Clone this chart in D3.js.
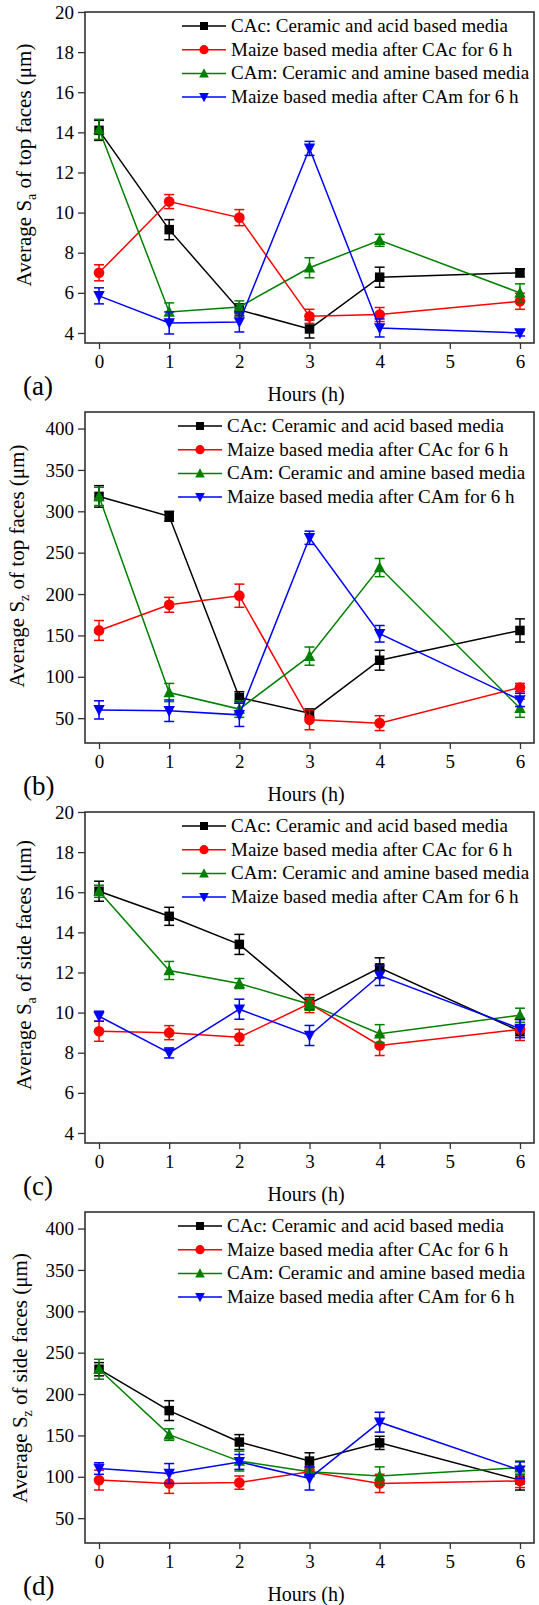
<!DOCTYPE html>
<html><head><meta charset="utf-8">
<script src="https://cdn.jsdelivr.net/npm/d3@7"></script>
<style>
body{margin:0;background:#fff;}
</style></head>
<body><svg id="chart" width="539" height="1605"></svg>
<script>
// ---------- data ----------
const hours = [0, 1, 2, 3, 4, 6];
const xTicks = [0, 1, 2, 3, 4, 5, 6];
const seriesNames = [
  "CAc: Ceramic and acid based media",
  "Maize based media after CAc for 6 h",
  "CAm: Ceramic and amine based media",
  "Maize based media after CAm for 6 h"
];
const panelLetters = ["(a)", "(b)", "(c)", "(d)"];
const yTitleMain = ["Average S", "Average S", "Average S", "Average S"];
const yTitleSub = ["a", "z", "a", "z"];
const yTitleRest = [" of top faces (μm)", " of top faces (μm)", " of side faces (μm)", " of side faces (μm)"];
const yTicksSa = [4, 6, 8, 10, 12, 14, 16, 18, 20];
const yTicksSz = [50, 100, 150, 200, 250, 300, 350, 400];

// (a) Sa top faces
const saTopCAc = [14.1, 9.15, 5.15, 4.2, 6.78, 7.0];
const saTopCAcErr = [0.5, 0.5, 0.3, 0.45, 0.5, 0.2];
const saTopMaizeCAc = [7.0, 10.55, 9.75, 4.83, 4.92, 5.58];
const saTopMaizeCAcErr = [0.4, 0.35, 0.4, 0.35, 0.35, 0.4];
const saTopCAm = [14.15, 5.05, 5.3, 7.25, 8.62, 6.0];
const saTopCAmErr = [0.5, 0.45, 0.3, 0.5, 0.3, 0.45];
const saTopMaizeCAm = [5.85, 4.5, 4.55, 13.2, 4.25, 4.0];
const saTopMaizeCAmErr = [0.4, 0.55, 0.5, 0.35, 0.45, 0.15];

// (b) Sz top faces
const szTopCAc = [318, 294, 75, 56, 120, 156];
const szTopCAcErr = [13, 6, 7, 5, 12, 14];
const szTopMaizeCAc = [156, 187, 198, 48, 44, 87];
const szTopMaizeCAcErr = [12, 9, 14, 12, 9, 5];
const szTopCAm = [318, 81, 61, 125, 232, 62];
const szTopCAmErr = [11, 11, 10, 11, 11, 11];
const szTopMaizeCAm = [60, 59, 54, 268, 152, 72];
const szTopMaizeCAmErr = [11, 13, 14, 8, 10, 8];

// (c) Sa side faces
const saSideCAc = [16.05, 14.8, 13.4, 10.45, 12.23, 9.07];
const saSideCAcErr = [0.5, 0.45, 0.5, 0.3, 0.5, 0.3];
const saSideMaizeCAc = [9.07, 9.0, 8.77, 10.45, 8.36, 9.16];
const saSideMaizeCAcErr = [0.5, 0.35, 0.4, 0.45, 0.5, 0.55];
const saSideCAm = [16.05, 12.1, 11.45, 10.42, 8.95, 9.87];
const saSideCAmErr = [0.3, 0.45, 0.25, 0.3, 0.45, 0.35];
const saSideMaizeCAm = [9.82, 7.99, 10.17, 8.86, 11.85, 9.2];
const saSideMaizeCAmErr = [0.25, 0.25, 0.5, 0.5, 0.5, 0.45];

// (d) Sz side faces
const szSideCAc = [230, 180, 142, 119, 141, 96];
const szSideCAcErr = [8, 12, 9, 10, 8, 12];
const szSideMaizeCAc = [96, 92, 93, 106, 92, 95];
const szSideMaizeCAcErr = [12, 12, 8, 6, 11, 8];
const szSideCAm = [230, 151, 119, 106, 101, 111];
const szSideCAmErr = [12, 7, 12, 5, 11, 8];
const szSideMaizeCAm = [110, 104, 118, 98, 166, 108];
const szSideMaizeCAmErr = [7, 12, 9, 14, 12, 10];

// ---------- styles / layout ----------
const FONT = "'Liberation Serif', 'Times New Roman', Times, 'DejaVu Serif', serif";
const colors = ["#000000", "#ff0000", "#008000", "#0000ff"];
const shapes = ["square", "circle", "up", "down"];
const panels = [
  {vals:[saTopCAc, saTopMaizeCAc, saTopCAm, saTopMaizeCAm], errs:[saTopCAcErr, saTopMaizeCAcErr, saTopCAmErr, saTopMaizeCAmErr], dom:[3.5,20], ticks:yTicksSa, titleC:153, titleX:31, legX:182},
  {vals:[szTopCAc, szTopMaizeCAc, szTopCAm, szTopMaizeCAm], errs:[szTopCAcErr, szTopMaizeCAcErr, szTopCAmErr, szTopMaizeCAmErr], dom:[20,420], ticks:yTicksSz, titleC:154, titleX:24, legX:178},
  {vals:[saSideCAc, saSideMaizeCAc, saSideCAm, saSideMaizeCAm], errs:[saSideCAcErr, saSideMaizeCAcErr, saSideCAmErr, saSideMaizeCAmErr], dom:[3.5,20], ticks:yTicksSa, titleC:153, titleX:31, legX:182},
  {vals:[szSideCAc, szSideMaizeCAc, szSideCAm, szSideMaizeCAm], errs:[szSideCAcErr, szSideMaizeCAcErr, szSideCAmErr, szSideMaizeCAmErr], dom:[20,420], ticks:yTicksSz, titleC:166, titleX:27, legX:178}
];

const left = 85, right = 534, ph = 331;
const svg = d3.select("#chart").style("font-family", FONT);
const x = d3.scaleLinear().domain([-0.2, 6.2]).range([left, right]);

function marker(g, shape, cx, cy, s, color) {
  if (shape === "square") {
    g.append("rect").attr("x", cx - s/2).attr("y", cy - s/2).attr("width", s).attr("height", s).attr("fill", color);
  } else if (shape === "circle") {
    g.append("circle").attr("cx", cx).attr("cy", cy).attr("r", s/2 + 0.6).attr("fill", color);
  } else if (shape === "up") {
    const h = s * 1.05, w = s * 1.2;
    g.append("path").attr("d", `M${cx},${cy - h*0.62}L${cx + w/2},${cy + h*0.48}L${cx - w/2},${cy + h*0.48}Z`).attr("fill", color);
  } else {
    const h = s * 1.05, w = s * 1.2;
    g.append("path").attr("d", `M${cx},${cy + h*0.62}L${cx + w/2},${cy - h*0.48}L${cx - w/2},${cy - h*0.48}Z`).attr("fill", color);
  }
}

panels.forEach((p, i) => {
  const top = 12 + 400 * i, bottom = top + ph;
  const y = d3.scaleLinear().domain(p.dom).range([bottom, top]);
  const g = svg.append("g");

  // axes
  const ya = g.append("g").attr("transform", `translate(${left},0)`)
    .call(d3.axisLeft(y).tickValues(p.ticks).tickFormat(d3.format("d")).tickSize(7).tickSizeOuter(0).tickPadding(4));
  ya.attr("font-family", null).attr("font-size", null);
  ya.select(".domain").remove();
  ya.selectAll("line").attr("stroke", "#333").attr("stroke-width", 1.3);
  ya.selectAll("text").style("font-family", FONT).style("font-size", "19px").attr("fill", "#000");

  const xa = g.append("g").attr("transform", `translate(0,${bottom})`)
    .call(d3.axisBottom(x).tickValues(xTicks).tickFormat(d3.format("d")).tickSize(6).tickSizeOuter(0).tickPadding(6));
  xa.attr("font-family", null).attr("font-size", null);
  xa.select(".domain").remove();
  xa.selectAll("line").attr("stroke", "#333").attr("stroke-width", 1.3);
  xa.selectAll("text").style("font-family", FONT).style("font-size", "19px").attr("fill", "#000");

  // frame
  g.append("rect").attr("x", left).attr("y", top).attr("width", right - left).attr("height", ph)
    .attr("fill", "none").attr("stroke", "#333").attr("stroke-width", 1.6);

  // series
  p.vals.forEach((vals, k) => {
    const c = colors[k];
    const pts = hours.map((h, j) => ({h, v: vals[j], e: p.errs[k][j]}));
    g.append("path").datum(pts)
      .attr("d", d3.line().x(d => x(d.h)).y(d => y(d.v)))
      .attr("fill", "none").attr("stroke", c).attr("stroke-width", 1.5);
    pts.forEach(d => {
      const cx = x(d.h), y1 = y(d.v + d.e), y2 = y(d.v - d.e);
      g.append("line").attr("x1", cx).attr("x2", cx).attr("y1", y1).attr("y2", y2).attr("stroke", c).attr("stroke-width", 1.5);
      g.append("line").attr("x1", cx - 5).attr("x2", cx + 5).attr("y1", y1).attr("y2", y1).attr("stroke", c).attr("stroke-width", 1.5);
      g.append("line").attr("x1", cx - 5).attr("x2", cx + 5).attr("y1", y2).attr("y2", y2).attr("stroke", c).attr("stroke-width", 1.5);
      marker(g, shapes[k], cx, y(d.v), 9.5, c);
    });
  });

  // legend
  seriesNames.forEach((name, k) => {
    const ly = top + 14 + k * 23.7;
    const lg = g.append("g");
    lg.append("line").attr("x1", p.legX).attr("x2", p.legX + 44).attr("y1", ly).attr("y2", ly).attr("stroke", colors[k]).attr("stroke-width", 1.5);
    marker(lg, shapes[k], p.legX + 22, ly, 8, colors[k]);
    lg.append("text").attr("x", p.legX + 49).attr("y", ly + 6).style("font-family", FONT).style("font-size", "19px").text(name);
  });

  // y title
  const yc = top + p.titleC;
  const t = g.append("text").attr("transform", `translate(${p.titleX},${yc}) rotate(-90)`)
    .attr("text-anchor", "middle").style("font-family", FONT).style("font-size", "21px");
  t.append("tspan").text(yTitleMain[i]);
  t.append("tspan").attr("dy", 5).style("font-size", "14px").text(yTitleSub[i]);
  t.append("tspan").attr("dy", -5).text(yTitleRest[i]);

  // x title
  g.append("text").attr("x", 306).attr("y", bottom + 58).attr("text-anchor", "middle").style("font-family", FONT).style("font-size", "20px").text("Hours (h)");

  // panel letter
  g.append("text").attr("x", 23).attr("y", bottom + 52).style("font-family", FONT).style("font-size", "27px").text(panelLetters[i]);
});
</script></body></html>
